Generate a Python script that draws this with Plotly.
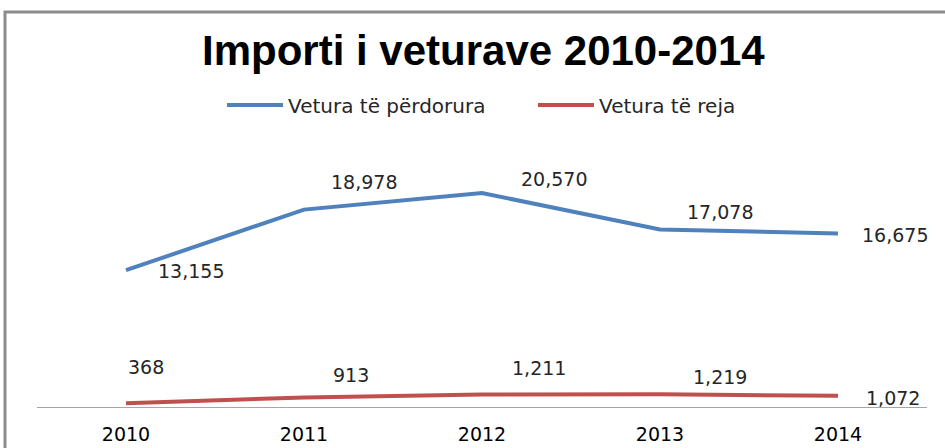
import plotly.graph_objects as go

years = ["2010", "2011", "2012", "2013", "2014"]
used = [13155, 18978, 20570, 17078, 16675]
new = [368, 913, 1211, 1219, 1072]
used_name = "Vetura të përdorura"
new_name = "Vetura të reja"
title = "Importi i veturave 2010-2014"

# pixel offsets of data labels relative to their points (style)
used_off = [(65, -1), (60, 28), (72, 14), (60, 17), (57, -1)]
new_off = [(20, 36), (47, 23), (57, 26), (60, 17), (55, -2)]

W, H = 945, 448
L, R, T, B = 37, 18, 147, 41
pw, ph = W - L - R, H - T - B

def px(x):
    return (x - L) / pw

def py(y):
    return (H - B - y) / ph

fig = go.Figure()
fig.add_trace(go.Scatter(x=years, y=used, mode="lines", name=used_name,
                         line=dict(color="#4F81BD", width=4)))
fig.add_trace(go.Scatter(x=years, y=new, mode="lines", name=new_name,
                         line=dict(color="#C0504D", width=4)))

ann = []
lab_font = dict(family="DejaVu Sans, Verdana, sans-serif", size=19, color="#262626")
for i, v in enumerate(used):
    dx, dy = used_off[i]
    ann.append(dict(x=i, y=v, text=f"{v:,}", showarrow=False, xshift=dx, yshift=dy,
                    font=lab_font))
for i, v in enumerate(new):
    dx, dy = new_off[i]
    ann.append(dict(x=i, y=v, text=f"{v:,}", showarrow=False, xshift=dx, yshift=dy,
                    font=lab_font))

ann.append(dict(xref="paper", yref="paper", x=px(483), y=py(50), text=f"<b>{title}</b>",
                showarrow=False, xanchor="center", yanchor="middle",
                font=dict(family="Liberation Sans, sans-serif", size=42, color="#000")))

fig.update_layout(
    width=W, height=H, autosize=False,
    margin=dict(l=L, r=R, t=T, b=B, autoexpand=False),
    paper_bgcolor="white", plot_bgcolor="white",
    annotations=ann,
    showlegend=True,
    legend=dict(orientation="h", xref="paper", yref="paper", x=px(222), y=py(105),
                xanchor="left", yanchor="middle",
                font=dict(family="DejaVu Sans, sans-serif", size=20, color="#262626"),
                itemwidth=56, entrywidth=240, traceorder="normal"),
    shapes=[dict(type="rect", xref="paper", yref="paper", x0=px(5), x1=px(960), y0=py(470), y1=py(12),
                 line=dict(color="#8c8c8c", width=3), fillcolor="rgba(0,0,0,0)", layer="below")],
)
fig.update_xaxes(type="category", range=[-0.5, 4.5], showline=True, linecolor="#a6a6a6", linewidth=1,
                 showgrid=False, zeroline=False, ticks="", ticklabelstandoff=10,
                 tickfont=dict(family="DejaVu Sans, sans-serif", size=19, color="#000"))
fig.update_yaxes(range=[0, 25000], visible=False, showgrid=False, zeroline=False)

fig.write_html("out.html", config={"displayModeBar": False},
               post_script="document.body.style.margin='0';document.body.style.overflow='hidden';")
